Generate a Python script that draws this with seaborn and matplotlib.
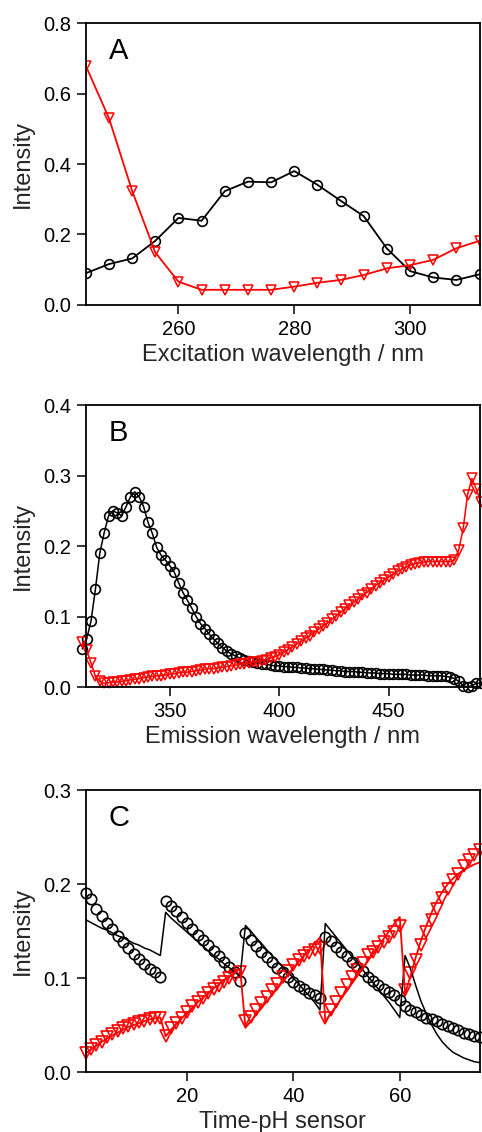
import numpy as np
import pandas as pd
import matplotlib
matplotlib.use("Agg")
import matplotlib.pyplot as plt
import seaborn as sns

# ---- panel A: excitation spectra ----
exc_nm = np.arange(244, 313, 4)
exc_black = [0.090, 0.116, 0.132, 0.182, 0.247, 0.239, 0.323, 0.350, 0.348,
             0.380, 0.341, 0.296, 0.252, 0.160, 0.096, 0.078, 0.071, 0.087]
exc_red = [0.679, 0.530, 0.324, 0.149, 0.066, 0.043, 0.043, 0.043, 0.043,
           0.052, 0.063, 0.071, 0.085, 0.104, 0.113, 0.128, 0.161, 0.182]

# ---- panel B: emission spectra ----
em_nm = np.arange(310, 493, 2)
em_black = [0.054, 0.068, 0.094, 0.139, 0.190, 0.219, 0.243, 0.250, 0.247, 0.243,
            0.256, 0.270, 0.277, 0.270, 0.256, 0.234, 0.218, 0.198, 0.187, 0.180,
            0.172, 0.163, 0.148, 0.134, 0.123, 0.112, 0.100, 0.090, 0.083, 0.075,
            0.068, 0.062, 0.056, 0.051, 0.047, 0.044, 0.041, 0.039, 0.037, 0.035,
            0.034, 0.033, 0.032, 0.031, 0.030, 0.030, 0.029, 0.029, 0.028, 0.028,
            0.027, 0.027, 0.026, 0.026, 0.025, 0.025, 0.024, 0.024, 0.023, 0.023,
            0.022, 0.022, 0.022, 0.021, 0.021, 0.020, 0.020, 0.020, 0.019, 0.019,
            0.019, 0.018, 0.018, 0.018, 0.018, 0.017, 0.017, 0.017, 0.017, 0.016,
            0.016, 0.016, 0.016, 0.015, 0.014, 0.012, 0.008, 0.002, 0.000, 0.002,
            0.005, 0.006]
em_red = [0.064, 0.052, 0.034, 0.015, 0.008, 0.005, 0.006, 0.007, 0.007, 0.008,
          0.009, 0.010, 0.011, 0.012, 0.013, 0.014, 0.015, 0.016, 0.016, 0.017,
          0.018, 0.019, 0.020, 0.021, 0.021, 0.022, 0.023, 0.024, 0.025, 0.026,
          0.026, 0.027, 0.028, 0.029, 0.030, 0.031, 0.032, 0.033, 0.034, 0.035,
          0.036, 0.037, 0.039, 0.041, 0.043, 0.046, 0.049, 0.053, 0.057, 0.061,
          0.065, 0.069, 0.073, 0.078, 0.082, 0.087, 0.091, 0.096, 0.101, 0.106,
          0.111, 0.116, 0.120, 0.125, 0.130, 0.134, 0.139, 0.144, 0.148, 0.152,
          0.156, 0.160, 0.164, 0.167, 0.170, 0.173, 0.175, 0.176, 0.177, 0.178,
          0.178, 0.178, 0.178, 0.178, 0.178, 0.180, 0.195, 0.225, 0.273, 0.296,
          0.281, 0.262]

# ---- panel C: time course with pH changes ----
t = np.arange(1, 76)
c_black = [0.190, 0.184, 0.174, 0.166, 0.159, 0.152, 0.145, 0.138, 0.132, 0.126,
           0.120, 0.115, 0.110, 0.106, 0.101,
           0.182, 0.177, 0.171, 0.165, 0.159, 0.152, 0.146, 0.140, 0.135, 0.129,
           0.123, 0.117, 0.112, 0.106, 0.097,
           0.148, 0.140, 0.134, 0.128, 0.122, 0.117, 0.111, 0.106, 0.101, 0.096,
           0.092, 0.088, 0.084, 0.082, 0.079,
           0.144, 0.139, 0.133, 0.128, 0.123, 0.117, 0.112, 0.107, 0.101, 0.097,
           0.093, 0.088, 0.085, 0.082, 0.077,
           0.070, 0.066, 0.064, 0.061, 0.058, 0.056, 0.054, 0.051, 0.049, 0.047,
           0.045, 0.042, 0.040, 0.038, 0.037]
c_black_fit = [0.162, 0.159, 0.156, 0.153, 0.151, 0.148, 0.145, 0.143, 0.140, 0.137,
               0.135, 0.132, 0.130, 0.127, 0.124,
               0.170, 0.164, 0.159, 0.154, 0.149, 0.144, 0.139, 0.134, 0.129, 0.124,
               0.120, 0.115, 0.111, 0.106, 0.102,
               0.156, 0.150, 0.143, 0.137, 0.130, 0.124, 0.118, 0.112, 0.106, 0.100,
               0.094, 0.087, 0.081, 0.074, 0.066,
               0.158, 0.151, 0.144, 0.137, 0.130, 0.123, 0.116, 0.109, 0.102, 0.095,
               0.088, 0.081, 0.074, 0.066, 0.058,
               0.124, 0.110, 0.092, 0.075, 0.062, 0.050, 0.040, 0.032, 0.026, 0.021,
               0.018, 0.015, 0.013, 0.011, 0.010]
c_red = [0.020, 0.025, 0.029, 0.032, 0.037, 0.040, 0.044, 0.047, 0.049, 0.051,
         0.053, 0.054, 0.056, 0.057, 0.058,
         0.038, 0.047, 0.052, 0.058, 0.064, 0.070, 0.075, 0.079, 0.084, 0.088,
         0.092, 0.096, 0.100, 0.102, 0.106,
         0.054, 0.059, 0.066, 0.073, 0.080, 0.087, 0.094, 0.101, 0.108, 0.114,
         0.119, 0.123, 0.127, 0.130, 0.132,
         0.058, 0.066, 0.075, 0.084, 0.093, 0.101, 0.109, 0.116, 0.124, 0.128,
         0.133, 0.138, 0.144, 0.149, 0.155,
         0.087, 0.105, 0.119, 0.135, 0.149, 0.162, 0.174, 0.185, 0.195, 0.204,
         0.211, 0.219, 0.226, 0.231, 0.236]
c_red_fit = [0.020, 0.024, 0.028, 0.032, 0.036, 0.039, 0.042, 0.045, 0.048, 0.050,
             0.052, 0.054, 0.056, 0.057, 0.058,
             0.038, 0.045, 0.051, 0.057, 0.063, 0.068, 0.074, 0.079, 0.084, 0.089,
             0.093, 0.098, 0.102, 0.106, 0.110,
             0.047, 0.054, 0.061, 0.068, 0.075, 0.082, 0.089, 0.096, 0.103, 0.110,
             0.117, 0.124, 0.130, 0.137, 0.143,
             0.054, 0.062, 0.070, 0.078, 0.086, 0.094, 0.102, 0.110, 0.118, 0.126,
             0.134, 0.142, 0.150, 0.158, 0.165,
             0.083, 0.102, 0.122, 0.140, 0.156, 0.170, 0.182, 0.192, 0.200, 0.206,
             0.211, 0.215, 0.218, 0.221, 0.223]

sns.set_theme(style="ticks")
plt.rcParams["font.family"] = ["Liberation Sans", "DejaVu Sans"]
plt.rcParams["axes.linewidth"] = 1.3
plt.rcParams["xtick.major.size"] = 6.5
plt.rcParams["ytick.major.size"] = 6.5
plt.rcParams["xtick.major.width"] = 1.1
plt.rcParams["ytick.major.width"] = 1.1
plt.rcParams["xtick.labelsize"] = 14.5
plt.rcParams["ytick.labelsize"] = 14.5
plt.rcParams["axes.labelsize"] = 17
plt.rcParams["axes.edgecolor"] = "black"
plt.rcParams["xtick.color"] = "black"
plt.rcParams["ytick.color"] = "black"
plt.rcParams["text.color"] = "#111111"

RED = "#ff0000"
fig = plt.figure(figsize=(4.82, 11.32), dpi=100)
axA = fig.add_axes([0.178, 0.7306, 0.817, 0.249])
axB = fig.add_axes([0.178, 0.3931, 0.817, 0.249])
axC = fig.add_axes([0.178, 0.0530, 0.817, 0.249])

# A
sns.lineplot(x=exc_nm, y=exc_black, ax=axA, color="black", lw=1.3, marker="o",
             ms=7, mfc="none", mec="black", mew=1.2, errorbar=None)
sns.lineplot(x=exc_nm, y=exc_red, ax=axA, color=RED, lw=1.3, marker="v",
             ms=6.5, mfc="none", mec=RED, mew=1.1, errorbar=None)
axA.set_xlim(244, 312)
axA.set_ylim(0, 0.8)
axA.set_xticks([260, 280, 300])
axA.set_yticks([0.0, 0.2, 0.4, 0.6, 0.8])
axA.set_xlabel("Excitation wavelength / nm")

# B
sns.lineplot(x=em_nm, y=em_black, ax=axB, color="black", lw=1.1, marker="o",
             ms=7, mfc="none", mec="black", mew=1.2, errorbar=None, clip_on=False)
sns.lineplot(x=em_nm, y=em_red, ax=axB, color=RED, lw=1.1, marker="v",
             ms=6.5, mfc="none", mec=RED, mew=1.1, errorbar=None, clip_on=False)
axB.set_xlim(311.6, 491.5)
axB.set_ylim(0, 0.4)
axB.set_xticks([350, 400, 450])
axB.set_yticks([0.0, 0.1, 0.2, 0.3, 0.4])
axB.set_xlabel("Emission wavelength / nm")

# C
sns.lineplot(x=t, y=c_black, ax=axC, color="black", ls="none", marker="o",
             ms=7.5, mfc="none", mec="black", mew=1.2, errorbar=None, clip_on=False)
sns.lineplot(x=t, y=c_red, ax=axC, color=RED, ls="none", marker="v",
             ms=8, mfc="none", mec=RED, mew=1.2, errorbar=None, clip_on=False)
sns.lineplot(x=t, y=c_black_fit, ax=axC, color="black", lw=1.1, errorbar=None)
sns.lineplot(x=t, y=c_red_fit, ax=axC, color=RED, lw=1.3, errorbar=None)
axC.set_xlim(1, 75)
axC.set_ylim(0, 0.3)
axC.set_xticks([20, 40, 60])
axC.set_yticks([0.0, 0.1, 0.2, 0.3])
axC.set_xlabel("Time-pH sensor")

for ax, letter in zip([axA, axB, axC], ["A", "B", "C"]):
    ax.set_ylabel("Intensity", labelpad=7)
    ax.tick_params(axis="both", which="major", direction="out", pad=4,
                   top=False, right=False)
    ax.yaxis.set_major_formatter(matplotlib.ticker.FormatStrFormatter("%.1f"))
    for s in ax.spines.values():
        s.set_visible(True)
        s.set_color("black")
    ax.text(0.058, 0.90, letter, transform=ax.transAxes, fontsize=21,
            ha="left", va="center", color="black")

fig.savefig("out.png", dpi=100)
